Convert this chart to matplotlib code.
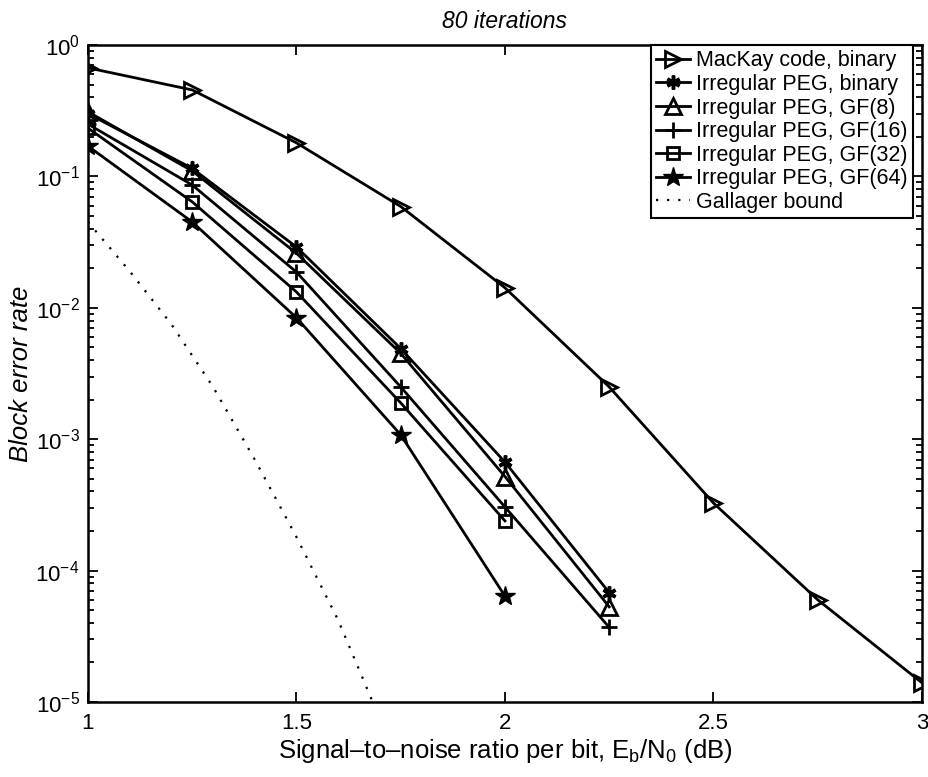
import matplotlib.pyplot as plt
from matplotlib.ticker import LogLocator, NullFormatter

plt.rcParams['font.family'] = ['Liberation Sans', 'DejaVu Sans']
plt.rcParams['mathtext.fontset'] = 'custom'
plt.rcParams['mathtext.rm'] = 'Liberation Sans'
plt.rcParams['mathtext.it'] = 'Liberation Sans:italic'

snr = [1.0, 1.25, 1.5, 1.75, 2.0, 2.25, 2.5, 2.75, 3.0]
snr_peg = [1.0, 1.25, 1.5, 1.75, 2.0, 2.25]
snr_gf32 = [1.0, 1.25, 1.5, 1.75, 2.0]

mackay = [0.67, 0.455, 0.18, 0.059, 0.0142, 0.0025, 3.27e-4, 6.0e-5, 1.4e-5]
peg_binary = [0.30, 0.115, 0.029, 0.0049, 6.7e-4, 6.8e-5]
peg_gf8 = [0.31, 0.110, 0.026, 0.0045, 5.2e-4, 5.3e-5]
peg_gf16 = [0.25, 0.086, 0.0187, 0.0025, 3.05e-4, 3.7e-5]
peg_gf32 = [0.233, 0.064, 0.0132, 0.00189, 2.39e-4]
peg_gf64 = [0.17, 0.045, 0.0084, 0.00108, 6.4e-5]

gallager_snr = [1.0, 1.1, 1.2, 1.3, 1.4, 1.5, 1.6, 1.68]
gallager = [0.045, 0.019, 0.0075, 0.0025, 7e-4, 1.8e-4, 4.2e-5, 1.05e-5]

fig = plt.figure(figsize=(9.29, 7.77), dpi=100)
ax = fig.add_axes([0.0947, 0.0965, 0.8977, 0.8456])

lw = 2.0
ax.semilogy(snr, mackay, 'k-', marker='>', mfc='none', mew=2, ms=11, lw=lw,
            label='MacKay code, binary')
ax.semilogy(snr_peg, peg_binary, 'k-', marker=(6, 2, 0), mew=2.5, ms=10, lw=lw,
            label='Irregular PEG, binary')
ax.semilogy(snr_peg, peg_gf8, 'k-', marker='^', mfc='none', mew=2, ms=11, lw=lw,
            label='Irregular PEG, GF(8)')
ax.semilogy(snr_peg, peg_gf16, 'k-', marker='+', mew=2, ms=12, lw=lw,
            label='Irregular PEG, GF(16)')
ax.semilogy(snr_gf32, peg_gf32, 'k-', marker='s', mfc='none', mew=2, ms=8, lw=lw,
            label='Irregular PEG, GF(32)')
ax.semilogy(snr_gf32, peg_gf64, 'k-', marker='*', mfc='k', ms=15, lw=lw,
            label='Irregular PEG, GF(64)')
ax.semilogy(gallager_snr, gallager, 'k', ls=(0, (1, 4)), lw=1.6,
            label='Gallager bound')

ax.set_xlim(1, 3)
ax.set_ylim(1e-5, 1)
ax.set_xticks([1, 1.5, 2, 2.5, 3])
ax.set_xticklabels(['1', '1.5', '2', '2.5', '3'])
ax.yaxis.set_major_locator(LogLocator(base=10, numticks=10))
ax.yaxis.set_minor_locator(LogLocator(base=10, subs=range(2, 10), numticks=20))
ax.yaxis.set_minor_formatter(NullFormatter())

ax.tick_params(which='both', direction='in', top=True, right=True, width=1.3)
ax.tick_params(which='major', length=7, labelsize=16)
ax.tick_params(which='minor', length=4)
ax.tick_params(axis='x', which='major', pad=8)
ax.tick_params(axis='y', which='major', pad=6)
for s in ax.spines.values():
    s.set_linewidth(1.8)

ax.set_title('80 iterations', fontsize=16.5, style='italic', pad=12)
ax.set_ylabel('Block error rate', fontsize=18.5, style='italic', labelpad=2)
ax.set_xlabel('Signal\u2013to\u2013noise ratio per bit, E$_\\mathrm{b}$/N$_\\mathrm{0}$ (dB)',
              fontsize=18.5, labelpad=2)

leg = ax.legend(loc='upper right', bbox_to_anchor=(0.989, 1.0), fontsize=15.5,
                frameon=True, fancybox=False, edgecolor='k', framealpha=1,
                borderaxespad=0, handlelength=1.6, handletextpad=0.25,
                labelspacing=0.12, borderpad=0.25)
leg.get_frame().set_linewidth(1.5)

fig.savefig('out.png', dpi=100)
